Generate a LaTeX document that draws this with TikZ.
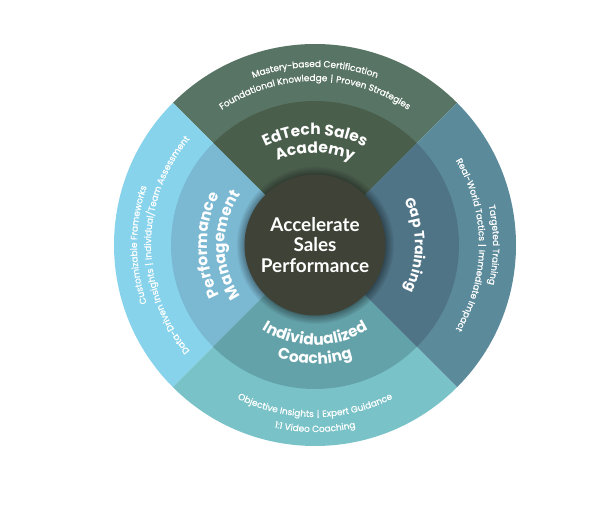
\documentclass[tikz,border=0pt]{standalone}
\usepackage{fontspec}
\setmainfont{Poppins}
\newfontfamily\hubfamily{Lato}
\newfontfamily\ringfamily[FakeBold=0.9]{Poppins}
\usetikzlibrary{decorations.text, shadows, fadings}
\definecolor{colAcademy}{HTML}{4A5E4C}
\definecolor{colAcademyRing}{HTML}{587464}
\definecolor{colGap}{HTML}{4F7486}
\definecolor{colGapRing}{HTML}{5B8A9A}
\definecolor{colCoach}{HTML}{64A2AA}
\definecolor{colCoachRing}{HTML}{78C2C8}
\definecolor{colPerf}{HTML}{7BB8D2}
\definecolor{colPerfRing}{HTML}{88D3EC}
\definecolor{colHub}{HTML}{3F4236}
\newcommand\ringfont{\ringfamily\fontsize{9}{11}\selectfont}
\newcommand\segfont{\fontsize{15.5}{18}\selectfont\bfseries}
\newcommand\sep{{\hspace{3bp}\color{white!75}\textbar\hspace{3bp}}}

\begin{document}
\begin{tikzpicture}[
    x=1bp, y=1bp,
    arctext/.style={decorate, decoration={text along path, text align=center,
                    text color=white, text={#1}}},
    hub/.style={circle, fill=colHub, minimum size=141bp, inner sep=0pt,
                align=center, text=white,
                font=\hubfamily\bfseries\fontsize{19}{21}\selectfont,
                circular drop shadow={shadow scale=1.12, shadow xshift=0bp,
                    shadow yshift=0bp, opacity=0.5, fill=black}},
]
\useasboundingbox (-315,-261) rectangle (297,245);

% ---- Outer ring ------------------------------------------------------------
\fill[colAcademyRing] (0,0) -- (45:201)  arc[start angle=45,  end angle=135, radius=201] -- cycle;
\fill[colPerfRing]    (0,0) -- (135:201) arc[start angle=135, end angle=225, radius=201] -- cycle;
\fill[colCoachRing]   (0,0) -- (225:201) arc[start angle=225, end angle=315, radius=201] -- cycle;
\fill[colGapRing]     (0,0) -- (315:201) arc[start angle=315, end angle=405, radius=201] -- cycle;

% ---- Middle ring -----------------------------------------------------------
\fill[colAcademy] (0,0) -- (45:144)  arc[start angle=45,  end angle=135, radius=144] -- cycle;
\fill[colPerf]    (0,0) -- (135:144) arc[start angle=135, end angle=225, radius=144] -- cycle;
\fill[colCoach]   (0,0) -- (225:144) arc[start angle=225, end angle=315, radius=144] -- cycle;
\fill[colGap]     (0,0) -- (315:144) arc[start angle=315, end angle=405, radius=144] -- cycle;

% ---- Hub -------------------------------------------------------------------
\node[hub] (hub) at (0,0) {Accelerate\\Sales\\Performance};

% ---- Segment titles --------------------------------------------------------
\path[arctext={|\segfont|EdTech Sales}] (150:110) arc[start angle=150, end angle=30, radius=110];
\path[arctext={|\segfont|Academy}]      (150:92)  arc[start angle=150, end angle=30, radius=92];
\path[arctext={|\segfont|Performance}]  (240:108) arc[start angle=240, end angle=120, radius=108];
\path[arctext={|\segfont|Management}]   (240:90)  arc[start angle=240, end angle=120, radius=90];
\path[arctext={|\segfont|Individualized}] (210:100) arc[start angle=210, end angle=330, radius=100];
\path[arctext={|\segfont|Coaching}]       (210:119) arc[start angle=210, end angle=330, radius=119];
\path[arctext={|\fontsize{14}{17}\selectfont\bfseries|Gap Training}] (60:100) arc[start angle=60, end angle=-60, radius=100];

% ---- Ring details ----------------------------------------------------------
\path[arctext={|\ringfont|Mastery-based Certification}] (150:178) arc[start angle=150, end angle=30, radius=178];
\path[arctext={|\ringfont|Foundational Knowledge\sep Proven Strategies}] (150:164) arc[start angle=150, end angle=30, radius=164];
\path[arctext={|\ringfont|Customizable Frameworks}] (240:178) arc[start angle=240, end angle=120, radius=178];
\path[arctext={|\ringfont|Data-Driven Insights\sep Individual/Team Assessment}] (240:164) arc[start angle=240, end angle=120, radius=164];
\path[arctext={|\ringfont|Objective Insights\sep Expert Guidance}] (210:172) arc[start angle=210, end angle=330, radius=172];
\path[arctext={|\ringfont|1:1 Video Coaching}] (210:187) arc[start angle=210, end angle=330, radius=187];
\path[arctext={|\ringfont|Targeted Training}] (60:178) arc[start angle=60, end angle=-60, radius=178];
\path[arctext={|\ringfont|Real-World Tactics\sep Immediate Impact}] (60:164) arc[start angle=60, end angle=-60, radius=164];

\end{tikzpicture}
\end{document}
